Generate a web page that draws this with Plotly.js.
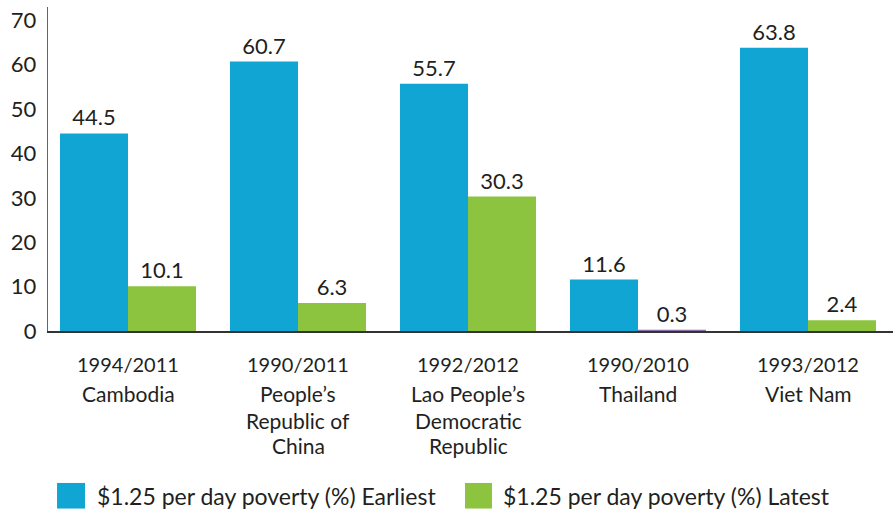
<!DOCTYPE html>
<html>
<head>
<meta charset="utf-8">
<script src="https://cdn.plot.ly/plotly-3.0.1.min.js"></script>
<style>html,body{margin:0;padding:0;background:#fff;}#chart{width:893px;height:509px;}</style>
</head>
<body>
<div id="chart"></div>
<script>
const countries = ["Cambodia", "People’s<br>Republic of<br>China", "Lao People’s<br>Democratic<br>Republic", "Thailand", "Viet Nam"];
const years = ["1994/2011", "1990/2011", "1992/2012", "1990/2010", "1993/2012"];
const earliest = [44.5, 60.7, 55.7, 11.6, 63.8];
const latest = [10.1, 6.3, 30.3, 0.3, 2.4];
const seriesNames = ["$1.25 per day poverty (%) Earliest", "$1.25 per day poverty (%) Latest"];

const BLUE = "#10a5d3", GREEN = "#8cc43f", PURPLE = "#8a70a8";
const TXT = "#231f20";
const FONT = "Lato, 'Open Sans', sans-serif";
const idx = countries.map((_, i) => i);

const traces = [
  {type: "bar", name: seriesNames[0], x: idx, y: earliest,
   marker: {color: BLUE}, text: earliest.map(v => v.toFixed(1)),
   textposition: "outside", cliponaxis: false, showlegend: false,
   textfont: {size: 22, color: TXT, family: FONT}},
  {type: "bar", name: seriesNames[1], x: idx, y: latest,
   marker: {color: latest.map(v => v < 1 ? PURPLE : GREEN)},
   text: latest.map(v => v.toFixed(1)),
   textposition: "outside", cliponaxis: false, showlegend: false,
   textfont: {size: 22, color: TXT, family: FONT}}
];

const annotations = years.map((yr, i) => ({
  text: yr, x: i, xref: "x", y: -0.103, yref: "paper",
  xanchor: "center", yanchor: "middle", showarrow: false,
  font: {size: 20, color: TXT, family: FONT}
}));

// category names, one annotation per line (tighter line spacing as in the original)
const lineY = [-0.1944, -0.2747, -0.3549];
countries.forEach((c, i) => {
  c.split("<br>").forEach((ln, j) => {
    annotations.push({text: ln, x: i, xref: "x", y: lineY[j], yref: "paper",
      xanchor: "center", yanchor: "middle", showarrow: false, borderpad: 0,
      font: {size: 21, color: TXT, family: FONT}});
  });
});

// manual legend (large swatches as in the original)
const legendColors = [BLUE, GREEN];
const legendSwatch = [[0.0107, 0.0438], [0.4935, 0.5254]];
const legendTextX = [0.0556, 0.536];
const shapes = [];
seriesNames.forEach((nm, k) => {
  shapes.push({type: "rect", xref: "paper", yref: "paper",
    x0: legendSwatch[k][0], x1: legendSwatch[k][1], y0: -0.469, y1: -0.548,
    fillcolor: legendColors[k], line: {width: 0}});
  annotations.push({text: nm, xref: "paper", yref: "paper",
    x: legendTextX[k], y: -0.509, xanchor: "left", yanchor: "middle",
    showarrow: false, font: {size: 23, color: TXT, family: FONT}});
});

const layout = {
  width: 893, height: 509,
  margin: {l: 48, r: 0, t: 7, b: 178},
  paper_bgcolor: "#fff", plot_bgcolor: "#fff",
  font: {family: FONT, color: TXT, size: 20},
  barmode: "group", bargap: 0.2, bargroupgap: 0,
  showlegend: false,
  xaxis: {
    tickmode: "array", tickvals: idx, ticktext: countries,
    showticklabels: false,
    range: [-0.4706, 4.5], showgrid: false, zeroline: false,
    showline: true, linecolor: "#333", linewidth: 1.5,
    ticks: "", automargin: false
  },
  yaxis: {
    range: [0, 73], tickvals: [0,10,20,30,40,50,60,70],
    showgrid: false, zeroline: false, showline: true,
    linecolor: "#666", linewidth: 1.2, ticks: "",
    ticklabelstandoff: 6, automargin: false,
    tickfont: {size: 22, color: TXT, family: FONT}
  },
  shapes: shapes,
  annotations: annotations
};

Plotly.newPlot("chart", traces, layout, {displayModeBar: false, staticPlot: true});
</script>
</body>
</html>
